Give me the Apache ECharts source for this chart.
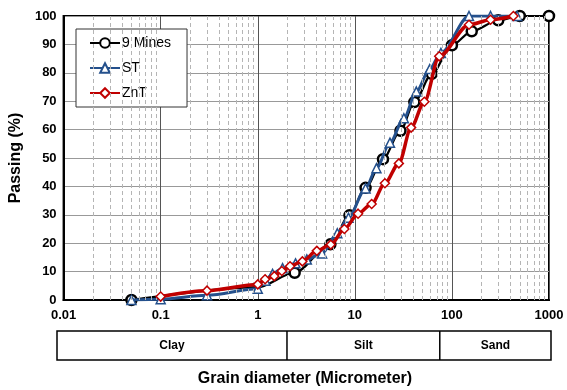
<!DOCTYPE html>
<html>
<head>
<meta charset="utf-8">
<script src="https://cdn.jsdelivr.net/npm/echarts@6/dist/echarts.min.js"></script>
<style>
  html, body { margin: 0; padding: 0; background: #fff; }
  #chart { width: 567px; height: 390px; }
</style>
</head>
<body>
<div id="chart"></div>
<script>
// Particle size distribution: cumulative passing (%) against grain diameter (µm)
const mines9 = [[0.05, 0], [1, 4.5], [2.4, 9.6], [5.6, 19.6], [8.8, 29.8], [12.9, 39.5], [19.5, 49.6], [29.5, 59.6], [41, 69.7], [62, 79.6], [100, 89.7], [160, 94.6], [300, 98.5], [500, 100], [1000, 100]];
const mines9Hidden = [1];            // diameters plotted without a marker
const st = [[0.05, 0], [0.1, 0.3], [0.3, 1.7], [1, 4], [1.2, 6.8], [1.42, 9.2], [1.8, 11.2], [2.45, 12.9], [3.2, 14.3], [4.6, 16.4], [6.6, 23.5], [8.6, 29], [12.9, 39.3], [16.7, 46.4], [23, 55.4], [32, 64], [43, 73.4], [59, 81.3], [77, 87], [150, 100], [250, 100], [470, 100]];
const znt = [[0.1, 1.2], [0.3, 3.3], [1, 5.5], [1.19, 7.3], [1.48, 8.4], [1.77, 10.2], [2.15, 11.9], [2.88, 13.6], [4.06, 17.3], [5.65, 19.5], [7.8, 25], [10.8, 30.4], [14.9, 33.8], [20.4, 41.1], [28.4, 48.1], [38, 60.7], [52, 69.8], [74, 85.8], [150, 96.9], [250, 98.7], [430, 100]];

const xTickLabels = ['0.01', '0.1', '1', '10', '100', '1000'];
const yTickValues = [0, 10, 20, 30, 40, 50, 60, 70, 80, 90, 100];
const classNames = ['Clay', 'Silt', 'Sand'];
const classBounds = [2, 75];         // µm limits between clay/silt and silt/sand

const FONT = 'Liberation Sans, Arial, sans-serif';

// dashed minor grid at 2..9 within each decade
const minorX = [];
for (let d = 0.01; d < 1000; d *= 10) {
  for (let m = 2; m <= 9; m++) minorX.push(+(m * d).toPrecision(3));
}

const chart = echarts.init(document.getElementById('chart'), null, { renderer: 'canvas' });

const option = {
  animation: false,
  backgroundColor: '#fff',
  grid: {
    left: 62, right: 18, top: 16, bottom: 90,
    show: true, borderColor: '#000', borderWidth: 2, backgroundColor: 'transparent'
  },
  legend: {
    data: ['9 Mines', 'ST', 'ZnT'],
    orient: 'vertical',
    left: 76, top: 29,
    padding: [7, 16, 7, 13],
    itemGap: 11,
    itemWidth: 30, itemHeight: 12,
    backgroundColor: '#fff',
    borderColor: '#333', borderWidth: 1,
    textStyle: { fontFamily: FONT, fontSize: 14, color: '#000', padding: [0, 0, 0, -3] }
  },
  xAxis: {
    type: 'log', logBase: 10, min: 0.01, max: 1000,
    axisLine: { show: true, lineStyle: { color: '#000', width: 2 } },
    axisTick: { show: false },
    axisLabel: {
      margin: 9, fontFamily: FONT, fontSize: 13, fontWeight: 'bold', color: '#000',
      formatter: (v, i) => xTickLabels[i]
    },
    splitLine: { show: true, lineStyle: { color: '#555', width: 1 } }
  },
  yAxis: {
    type: 'value', min: 0, max: 100, interval: 10,
    axisLine: { show: true, lineStyle: { color: '#000', width: 2 } },
    axisTick: { show: false },
    axisLabel: {
      margin: 7, fontFamily: FONT, fontSize: 13, fontWeight: 'bold', color: '#000',
      formatter: v => yTickValues.includes(v) ? String(v) : ''
    },
    splitLine: { show: true, lineStyle: { color: '#999', width: 1 } },
    name: 'Passing (%)',
    nameLocation: 'middle', nameGap: 38, nameRotate: 90,
    nameTextStyle: { fontFamily: FONT, fontSize: 16, fontWeight: 'bold', color: '#000' }
  },
  series: [
    {
      name: 'minor', type: 'line', data: [], silent: true, z: 1,
      markLine: {
        silent: true, symbol: ['none', 'none'], animation: false,
        label: { show: false },
        lineStyle: { color: '#b5b5b5', width: 1, type: [4, 3] },
        data: minorX.map(v => ({ xAxis: v }))
      }
    },
    {
      name: '9 Mines', type: 'line', smooth: 0.3, smoothMonotone: 'x', z: 3,
      data: mines9.map(p => mines9Hidden.includes(p[0]) ? { value: p, symbol: 'none' } : { value: p }),
      symbol: 'circle', symbolSize: 10,
      lineStyle: { color: '#000', width: 2.2 },
      itemStyle: { color: '#fff', borderColor: '#000', borderWidth: 2.5 }
    },
    {
      name: 'ST', type: 'line', smooth: 0.3, smoothMonotone: 'x', z: 4,
      data: st,
      symbol: 'triangle', symbolSize: 9,
      lineStyle: { color: '#24508c', width: 3 },
      itemStyle: { color: '#fff', borderColor: '#24508c', borderWidth: 1.5 }
    },
    {
      name: 'ZnT', type: 'line', smooth: 0.3, smoothMonotone: 'x', z: 5,
      data: znt,
      symbol: 'diamond', symbolSize: 9,
      lineStyle: { color: '#c00000', width: 3.5 },
      itemStyle: { color: '#fff', borderColor: '#c00000', borderWidth: 1.5 }
    }
  ]
};

chart.setOption(option);

// Soil classification band and x-axis title below the plot
function drawBand() {
  const boxLeft = 57, boxRight = 551, boxTop = 331, boxBottom = 360;
  const edges = [boxLeft].concat(classBounds.map(v => chart.convertToPixel({ xAxisIndex: 0 }, v)), [boxRight]);
  const elements = [{
    type: 'rect', silent: true,
    shape: { x: boxLeft, y: boxTop, width: boxRight - boxLeft, height: boxBottom - boxTop },
    style: { fill: '#fff', stroke: '#000', lineWidth: 1.5 }
  }];
  for (let i = 1; i < edges.length - 1; i++) {
    elements.push({
      type: 'line', silent: true,
      shape: { x1: edges[i], y1: boxTop, x2: edges[i], y2: boxBottom },
      style: { stroke: '#000', lineWidth: 1.5 }
    });
  }
  classNames.forEach((name, i) => {
    elements.push({
      type: 'text', silent: true,
      x: (edges[i] + edges[i + 1]) / 2, y: (boxTop + boxBottom) / 2,
      style: { text: name, font: 'bold 12px ' + FONT, fill: '#000', align: 'center', verticalAlign: 'middle' }
    });
  });
  elements.push({
    type: 'text', silent: true,
    x: 305, y: 379,
    style: { text: 'Grain diameter (Micrometer)', font: 'bold 16px ' + FONT, fill: '#000', align: 'center', verticalAlign: 'middle' }
  });
  chart.setOption({ graphic: { elements: elements } });
}
drawBand();
</script>
</body>
</html>
